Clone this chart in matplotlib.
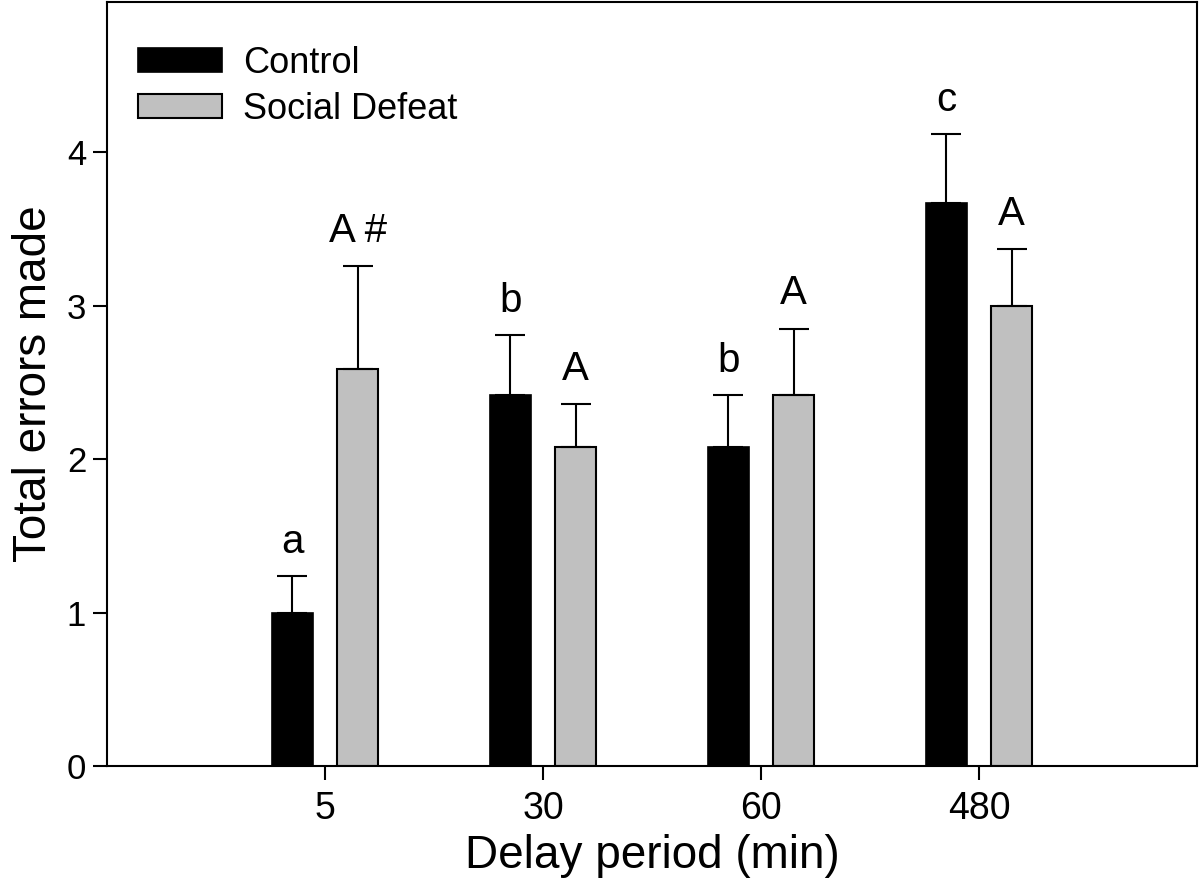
import numpy as np
import matplotlib
matplotlib.use('Agg')
import matplotlib.pyplot as plt

# data
delays = ['5', '30', '60', '480']
control_mean = [1.00, 2.42, 2.08, 3.67]
control_sem = [0.24, 0.39, 0.34, 0.45]
defeat_mean = [2.59, 2.08, 2.42, 3.00]
defeat_sem = [0.67, 0.28, 0.43, 0.37]
control_letters = ['a', 'b', 'b', 'c']
defeat_letters = ['A #', 'A', 'A', 'A']

plt.rcParams['font.family'] = ['Liberation Sans', 'DejaVu Sans']

fig = plt.figure(figsize=(12, 8.85), dpi=100)
ax = fig.add_axes([0.0892, 0.1345, 0.9083, 0.8632])

x = np.arange(len(delays))
w = 0.19
off = 0.15

err_kw = dict(ecolor='black', elinewidth=1.5, capsize=11, capthick=1.5)
ax.bar(x - off, control_mean, w, color='black', edgecolor='black', linewidth=1.2,
       yerr=[np.zeros(len(x)), control_sem], error_kw=err_kw, label='Control', zorder=2)
ax.bar(x + off, defeat_mean, w, color='#c0c0c0', edgecolor='black', linewidth=1.5,
       yerr=[np.zeros(len(x)), defeat_sem], error_kw=err_kw, label='Social Defeat', zorder=2)

# significance letters above error bars
for i in range(len(x)):
    ax.text(x[i] - off, control_mean[i] + control_sem[i] + 0.22, control_letters[i],
            ha='center', va='center', fontsize=29)
    ax.text(x[i] + off, defeat_mean[i] + defeat_sem[i] + 0.23, defeat_letters[i],
            ha='center', va='center', fontsize=29)

ax.set_xlim(-1, 4)
ax.set_ylim(0, 4.98)
ax.set_yticks([0, 1, 2, 3, 4])
ax.set_xticks(x)
ax.set_xticklabels(delays, fontsize=27)
ax.tick_params(axis='y', labelsize=25, direction='out', length=10, width=1.5, pad=5)
ax.tick_params(axis='x', direction='out', length=10, width=1.5, pad=8)
for s in ax.spines.values():
    s.set_linewidth(1.5)

ax.set_xlabel('Delay period (min)', fontsize=33, labelpad=5)
ax.set_ylabel('Total errors made', fontsize=33, labelpad=8)

ax.legend(loc='upper left', frameon=False, fontsize=26, handlelength=2.33,
          handleheight=0.64, handletextpad=0.58, labelspacing=0.31,
          bbox_to_anchor=(0.015, 0.962), borderaxespad=0)

fig.savefig('out.png', dpi=100)
